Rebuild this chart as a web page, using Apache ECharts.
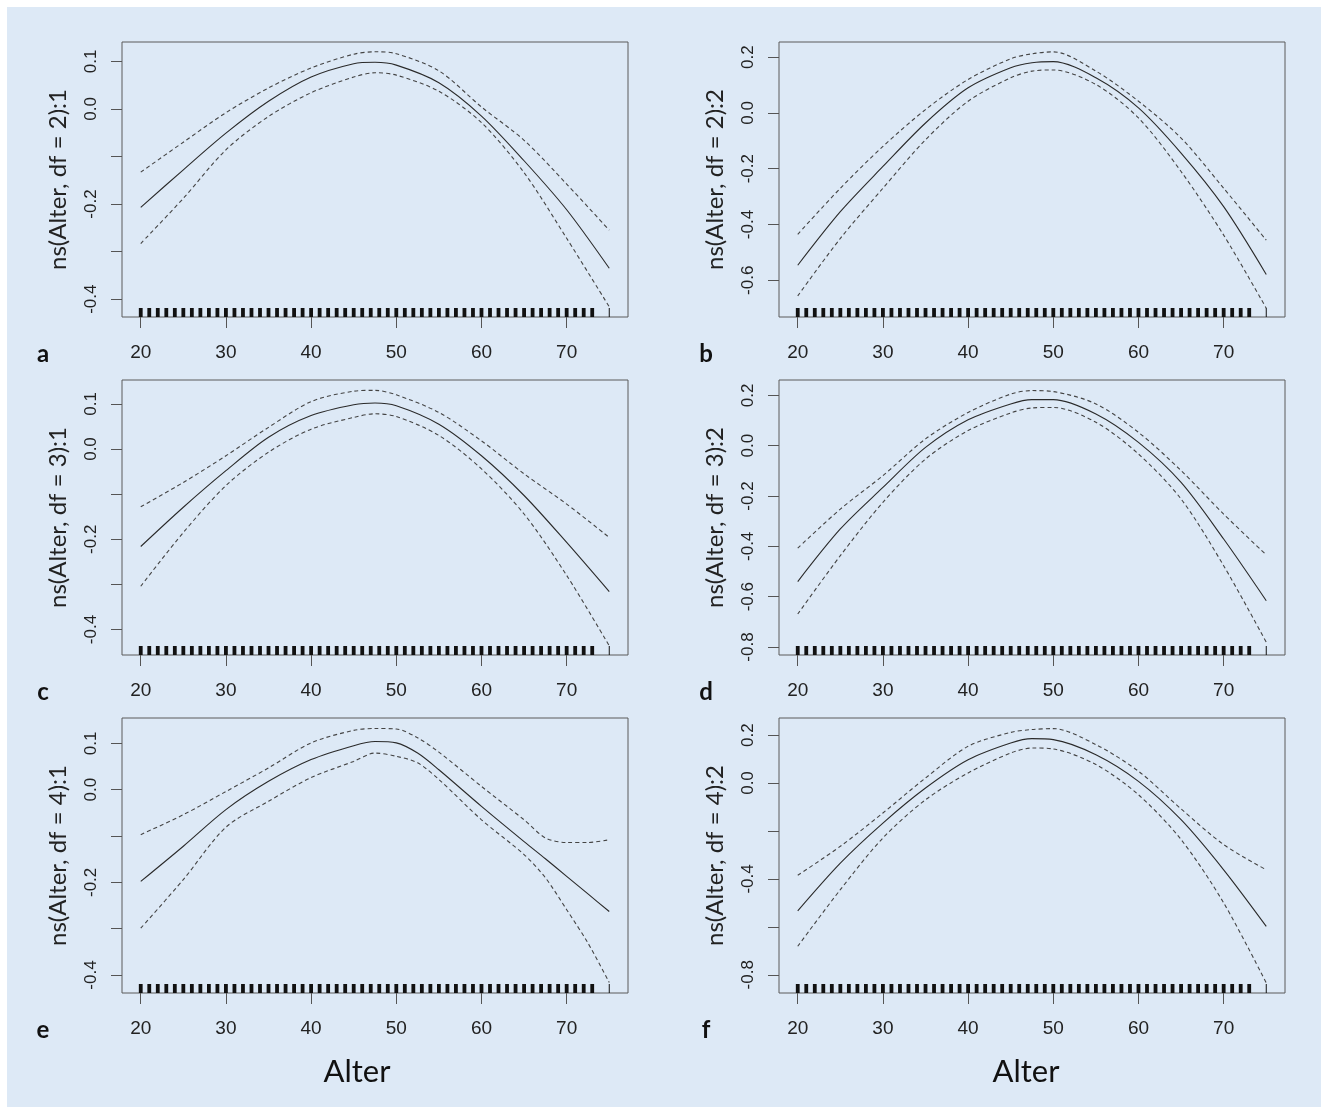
<!DOCTYPE html>
<html><head><meta charset="utf-8">
<script src="https://cdn.jsdelivr.net/npm/echarts@6/dist/echarts.min.js"></script>
<style>
html,body{margin:0;padding:0;background:#fff;}
#wrap{position:relative;width:1321px;height:1107px;background:#fff;overflow:hidden;}
#bg{position:absolute;left:7px;top:7px;width:1314px;height:1100px;background:#dde9f6;}
#chart{position:absolute;left:0;top:0;width:1321px;height:1107px;}
</style></head><body>
<div id="wrap"><div id="bg"></div><div id="chart"></div></div>
<script>
// ---- data ----
const ages  = [20, 25, 30, 35, 40, 45, 47.5, 50, 55, 60, 65, 70, 75];
const agesE = [20, 25, 30, 35, 40, 45, 47.5, 50, 52.5, 55, 60, 65, 67.5, 70, 72.5, 75];

const fitA = [-0.207,-0.128,-0.051,0.016,0.067,0.095,0.098,0.092,0.055,-0.015,-0.109,-0.212,-0.335];
const upA  = [-0.133,-0.070,-0.008,0.044,0.086,0.115,0.120,0.116,0.080,0.004,-0.066,-0.158,-0.255];
const loA  = [-0.283,-0.188,-0.086,-0.016,0.034,0.067,0.076,0.071,0.037,-0.029,-0.134,-0.272,-0.416];

const fitB = [-0.546,-0.354,-0.192,-0.036,0.090,0.162,0.180,0.184,0.126,0.018,-0.144,-0.336,-0.579];
const upB  = [-0.435,-0.270,-0.120,0.012,0.120,0.194,0.212,0.219,0.150,0.042,-0.090,-0.270,-0.456];
const loB  = [-0.656,-0.450,-0.270,-0.096,0.042,0.126,0.150,0.154,0.102,-0.018,-0.210,-0.438,-0.700];

const fitC = [-0.216,-0.129,-0.048,0.026,0.074,0.098,0.102,0.096,0.055,-0.015,-0.103,-0.207,-0.316];
const upC  = [-0.128,-0.074,-0.015,0.048,0.105,0.128,0.130,0.120,0.081,0.018,-0.055,-0.122,-0.196];
const loC  = [-0.304,-0.185,-0.081,-0.007,0.044,0.070,0.078,0.072,0.030,-0.044,-0.144,-0.280,-0.436];

const fitD = [-0.540,-0.331,-0.166,-0.007,0.103,0.166,0.183,0.183,0.126,0.013,-0.146,-0.371,-0.616];
const upD  = [-0.407,-0.252,-0.119,0.027,0.132,0.205,0.219,0.215,0.166,0.053,-0.099,-0.272,-0.434];
const loD  = [-0.669,-0.437,-0.225,-0.053,0.060,0.130,0.150,0.152,0.093,-0.033,-0.212,-0.477,-0.781];

const fitE = [-0.198,-0.122,-0.043,0.018,0.065,0.095,0.104,0.101,0.079,0.043,-0.036,-0.112,-0.149,-0.187,-0.225,-0.263];
const upE  = [-0.097,-0.054,-0.004,0.047,0.101,0.128,0.132,0.131,0.112,0.081,0.007,-0.065,-0.104,-0.114,-0.114,-0.108];
const loE  = [-0.299,-0.194,-0.081,-0.025,0.026,0.061,0.079,0.072,0.058,0.022,-0.065,-0.140,-0.190,-0.259,-0.331,-0.416];

const fitF = [-0.533,-0.334,-0.167,-0.021,0.097,0.167,0.185,0.181,0.118,0.007,-0.153,-0.362,-0.598];
const upF  = [-0.385,-0.264,-0.125,0.021,0.153,0.211,0.223,0.227,0.160,0.049,-0.108,-0.257,-0.362];
const loF  = [-0.681,-0.445,-0.229,-0.070,0.042,0.125,0.146,0.142,0.077,-0.049,-0.236,-0.500,-0.834];

// rug: observed ages
const rugAges = [20,21,22,23,24,25,26,27,28,29,30,31,32,33,34,35,36,37,38,39,40,41,42,43,44,45,46,47,48,49,50,
                 51,52,53,54,55,56,57,58,59,60,61,62,63,64,65,66,67,68,69,70,71,72,73];
const rugAgesThin = [75];

// tick values / labels
const xTicks = [20, 30, 40, 50, 60, 70];
const yTicksSmall = [-0.4, -0.3, -0.2, -0.1, 0, 0.1];
const yLabelsSmall = [-0.4, -0.2, 0, 0.1];
const yTicksB = [-0.6, -0.4, -0.2, 0, 0.2];
const yTicksD = [-0.8, -0.6, -0.4, -0.2, 0, 0.2];
const yLabelsF = [-0.8, -0.4, 0, 0.2];

const yNames = ['ns(Alter, df = 2):1','ns(Alter, df = 2):2','ns(Alter, df = 3):1',
                'ns(Alter, df = 3):2','ns(Alter, df = 4):1','ns(Alter, df = 4):2'];
const letters = ['a','b','c','d','e','f'];
const xTitle = 'Alter';

// ---- layout ----
const colLeft = [122, 779];
const rowTop = [42, 380, 718];
const boxW = 506, boxH = 275;

const panels = [
  {x: ages,  fit: fitA, up: upA, lo: loA, ymin: -0.4374, ymax: 0.1406, ticks: yTicksSmall, labels: yLabelsSmall},
  {x: ages,  fit: fitB, up: upB, lo: loB, ymin: -0.7316, ymax: 0.2543, ticks: yTicksB, labels: yTicksB},
  {x: ages,  fit: fitC, up: upC, lo: loC, ymin: -0.4564, ymax: 0.1529, ticks: yTicksSmall, labels: yLabelsSmall},
  {x: ages,  fit: fitD, up: upD, lo: loD, ymin: -0.8318, ymax: 0.2610, ticks: yTicksD, labels: yTicksD},
  {x: agesE, fit: fitE, up: upE, lo: loE, ymin: -0.4388, ymax: 0.1547, ticks: yTicksSmall, labels: yLabelsSmall},
  {x: ages,  fit: fitF, up: upF, lo: loF, ymin: -0.8760, ymax: 0.2712, ticks: yTicksD, labels: yLabelsF}
];

const grids = [], xAxes = [], yAxes = [], series = [], graphics = [];
const tickFont = '"Liberation Sans", Arial, sans-serif';
const titleFont = 'Lato, "Open Sans", sans-serif';

panels.forEach((p, i) => {
  const col = i % 2, row = Math.floor(i / 2);
  grids.push({left: colLeft[col], top: rowTop[row], width: boxW, height: boxH,
    show: true, borderColor: '#5a5a5a', borderWidth: 1, backgroundColor: 'transparent'});
  xAxes.push({type: 'value', gridIndex: i, min: 17.8, max: 77.2,
    axisLine: {show: false, onZero: false}, splitLine: {show: false},
    axisTick: {show: true, length: 11, customValues: xTicks, lineStyle: {color: '#555', width: 1}},
    axisLabel: {customValues: xTicks, margin: 26, fontSize: 19, color: '#222', fontFamily: tickFont}});
  yAxes.push({type: 'value', gridIndex: i, min: p.ymin, max: p.ymax,
    axisLine: {show: false, onZero: false}, splitLine: {show: false},
    axisTick: {show: true, length: 11, customValues: p.ticks, lineStyle: {color: '#555', width: 1}},
    axisLabel: {customValues: p.labels, rotate: 90, margin: 22, fontSize: 17, color: '#222', fontFamily: tickFont,
      formatter: v => (Math.abs(v) < 1e-9 ? 0 : v).toFixed(1)},
    name: yNames[i], nameLocation: 'middle', nameRotate: 90, nameGap: 52,
    nameTextStyle: {fontSize: 24, color: '#222', fontFamily: titleFont}});

  const mk = (arr) => p.x.map((a, k) => [a, arr[k]]);
  series.push({type: 'line', xAxisIndex: i, yAxisIndex: i, data: mk(p.fit), showSymbol: false, smooth: 0.3,
    lineStyle: {color: '#2a2a2a', width: 1.1}, silent: true});
  series.push({type: 'line', xAxisIndex: i, yAxisIndex: i, data: mk(p.up), showSymbol: false, smooth: 0.3,
    lineStyle: {color: '#444', width: 1.1, type: [4, 3]}, silent: true});
  series.push({type: 'line', xAxisIndex: i, yAxisIndex: i, data: mk(p.lo), showSymbol: false, smooth: 0.3,
    lineStyle: {color: '#444', width: 1.1, type: [4, 3]}, silent: true});
  const rug = (list, w) => ({type: 'custom', xAxisIndex: i, yAxisIndex: i, silent: true, clip: false,
    data: list.map(a => [a, 0]),
    renderItem: (params, api) => {
      const px = api.coord([api.value(0), 0])[0];
      const bottom = params.coordSys.y + params.coordSys.height;
      return {type: 'rect', shape: {x: px - w / 2, y: bottom - 9, width: w, height: 9}, style: {fill: '#111'}};
    }});
  series.push(rug(rugAges, 3.8));
  series.push(rug(rugAgesThin, 1));

  graphics.push({type: 'text', x: col === 0 ? 43 : 706, y: rowTop[row] + boxH + 37,
    style: {text: letters[i], fontSize: 24, fontWeight: 'bold', fontFamily: titleFont, fill: '#111',
      textAlign: 'center', textVerticalAlign: 'middle'}});
});
[357, 1026].forEach(cx => graphics.push({type: 'text', x: cx, y: 1072,
  style: {text: xTitle, fontSize: 31, fontFamily: titleFont, fill: '#111', textAlign: 'center', textVerticalAlign: 'middle'}}));

const chart = echarts.init(document.getElementById('chart'), null, {renderer: 'canvas'});
chart.setOption({
  animation: false,
  backgroundColor: 'transparent',
  grid: grids, xAxis: xAxes, yAxis: yAxes, series: series, graphic: graphics
});
</script>
</body></html>
